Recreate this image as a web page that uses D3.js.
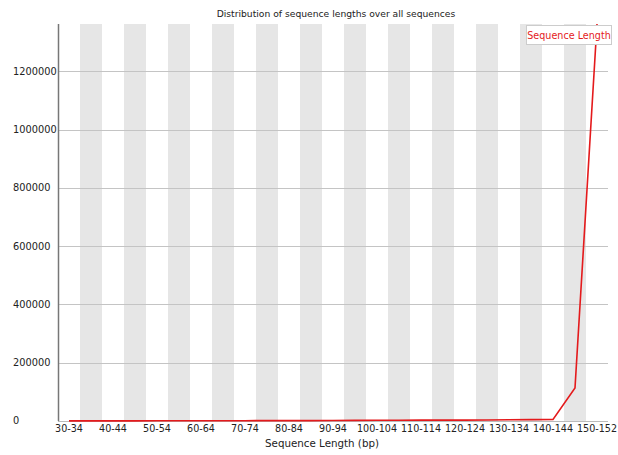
<!DOCTYPE html>
<html><head><meta charset="utf-8">
<script src="https://cdn.jsdelivr.net/npm/d3@7/dist/d3.min.js"></script>
<style>body{margin:0;background:#fff}svg{display:block;font-family:"DejaVu Sans",sans-serif}</style>
</head><body><svg id="c" width="618" height="455"></svg>
<script>
const categories = ["30-34","35-39","40-44","45-49","50-54","55-59","60-64","65-69","70-74","75-79","80-84","85-89","90-94","95-99","100-104","105-109","110-114","115-119","120-124","125-129","130-134","135-139","140-144","145-149","150-152"];
const seriesName = "Sequence Length";
const values = [300,400,500,600,700,800,900,1000,1100,1200,1300,1400,1500,2000,2800,2800,2900,3000,3000,3200,4500,4800,5000,113000,1362000];
const yTicks = [0,200000,400000,600000,800000,1000000,1200000];
const tickLabelCats = ["30-34","40-44","50-54","60-64","70-74","80-84","90-94","100-104","110-114","120-124","130-134","140-144","150-152"];

const svg = d3.select("#c");
const m = {l:58, r:10, t:24, b:34};
const W = 618, H = 455;
const x = d3.scaleBand().domain(categories).range([m.l, W-m.r]);
const y = d3.scaleLinear().domain([0, d3.max(values)]).range([H-m.b, m.t]);

// bands
svg.append("g").selectAll("rect").data(categories.filter((d,i)=>i%2===1)).join("rect")
  .attr("x", d=>x(d)).attr("y", m.t).attr("width", x.bandwidth()).attr("height", H-m.b-m.t)
  .attr("fill", "#e6e6e6");

// gridlines
svg.append("g").selectAll("line").data(yTicks.filter(d=>d>0)).join("line")
  .attr("x1", m.l).attr("x2", W-m.r).attr("y1", d=>Math.round(y(d))+0.5).attr("y2", d=>Math.round(y(d))+0.5)
  .attr("stroke", "#c4c4c4").attr("stroke-width", 1);

// y axis labels (left aligned)
svg.append("g").selectAll("text").data(yTicks).join("text")
  .attr("x", 13).attr("y", d=>y(d)).attr("dy", "0.35em")
  .attr("font-size", 9.8).attr("fill", "#222").text(d=>d3.format("d")(d));

svg.append("line").attr("x1", m.l+0.5).attr("x2", m.l+0.5).attr("y1", m.t).attr("y2", H-m.b)
  .attr("stroke", "#777").attr("stroke-width", 1.5);
svg.append("line").attr("x1", m.l).attr("x2", W-m.r).attr("y1", H-m.b+0.5).attr("y2", H-m.b+0.5)
  .attr("stroke", "#bbb").attr("stroke-width", 1);

// x axis labels
const xa = svg.append("g").attr("transform", `translate(0,${H-m.b})`)
  .call(d3.axisBottom(x).tickValues(tickLabelCats).tickSize(0).tickPadding(4));
xa.select(".domain").remove();
xa.selectAll("text").attr("font-size", 9.6).attr("fill", "#222").attr("font-family","DejaVu Sans, sans-serif");

// line
const line = d3.line().x((d,i)=>x(categories[i])+x.bandwidth()/2).y(d=>y(d));
svg.append("path").datum(values).attr("d", line).attr("fill","none")
  .attr("stroke", "#e41a1c").attr("stroke-width", 1.6);

// title
svg.append("text").attr("x", 336).attr("y", 17).attr("text-anchor","middle")
  .attr("font-size", 9.2).attr("fill","#222").text("Distribution of sequence lengths over all sequences");
// x label
svg.append("text").attr("x", 322).attr("y", 447).attr("text-anchor","middle")
  .attr("font-size", 10.3).attr("fill","#222").text("Sequence Length (bp)");

// legend
const lg = svg.append("g");
lg.append("rect").attr("x", 526.5).attr("y", 25.5).attr("width", 85).attr("height", 19)
  .attr("fill","#fff").attr("stroke","#ccc");
lg.append("text").attr("x", 569).attr("y", 39).attr("text-anchor","middle")
  .attr("font-size", 9.6).attr("fill","#e41a1c").text(seriesName);
</script></body></html>
